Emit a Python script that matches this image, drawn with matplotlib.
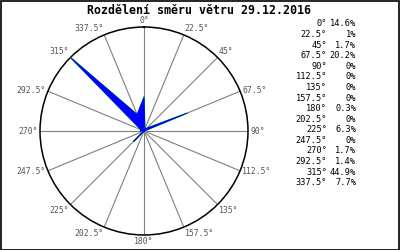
import numpy as np
import matplotlib
matplotlib.use('Agg')
import matplotlib.pyplot as plt

# --- DATA ---
directions = [0, 22.5, 45, 67.5, 90, 112.5, 135, 157.5, 180, 202.5, 225, 247.5, 270, 292.5, 315, 337.5]
percent = [14.6, 1, 1.7, 20.2, 0, 0, 0, 0, 0.3, 0, 6.3, 0, 1.7, 1.4, 44.9, 7.7]
title = 'Rozdělení směru větru 29.12.2016'

mono = 'DejaVu Sans Mono'

fig = plt.figure(figsize=(4, 2.5), dpi=100)
fig.patch.set_facecolor('white')

# black frame around the whole picture
fig.patches.append(plt.Rectangle((0.0015, 0.002), 0.997, 0.995, transform=fig.transFigure,
                                 fill=False, edgecolor='black', linewidth=1.2))

ax = fig.add_axes([0.1, 0.06, 0.52, 0.832], projection='polar')
ax.set_theta_zero_location('N')
ax.set_theta_direction(-1)
rmax = max(percent)
ax.set_ylim(0, rmax)
ax.set_yticks([])
ax.set_xticks(np.deg2rad(directions))
ax.set_xticklabels([])
ax.grid(True, color='#808080', linewidth=0.8)
ax.spines['polar'].set_color('black')
ax.spines['polar'].set_linewidth(1.1)

# wind rose polygon
th = np.deg2rad(directions + [directions[0]])
rr = percent + [percent[0]]
ax.plot(th, rr, color='#00cc00', linewidth=0.9, zorder=3)
ax.fill(th, rr, facecolor='blue', edgecolor='blue', linewidth=0.6, zorder=4)

# direction labels around the circle
for d in directions:
    s, c = np.sin(np.deg2rad(d)), np.cos(np.deg2rad(d))
    ha = 'center' if abs(s) < 0.1 else ('left' if s > 0 else 'right')
    va = 'center' if abs(c) < 0.5 else ('bottom' if c > 0 else 'top')
    ax.text(np.deg2rad(d), rmax * 1.02, f'{d:g}°', ha=ha, va=va, color='#555555',
            fontsize=5.9, family=mono, clip_on=False)

fig.text(0.497, 0.958, title, ha='center', va='center', fontsize=8.4,
         fontweight='bold', family=mono)

# table on the right
y0 = 0.904
dy = 0.0423
for i, (d, p) in enumerate(zip(directions, percent)):
    y = y0 - i * dy
    fig.text(0.8175, y, f'{d:g}°', ha='right', va='center', fontsize=6.2, family=mono)
    fig.text(0.89, y, f'{p:g}%', ha='right', va='center', fontsize=6.2, family=mono)

fig.savefig('out.png', dpi=100)
